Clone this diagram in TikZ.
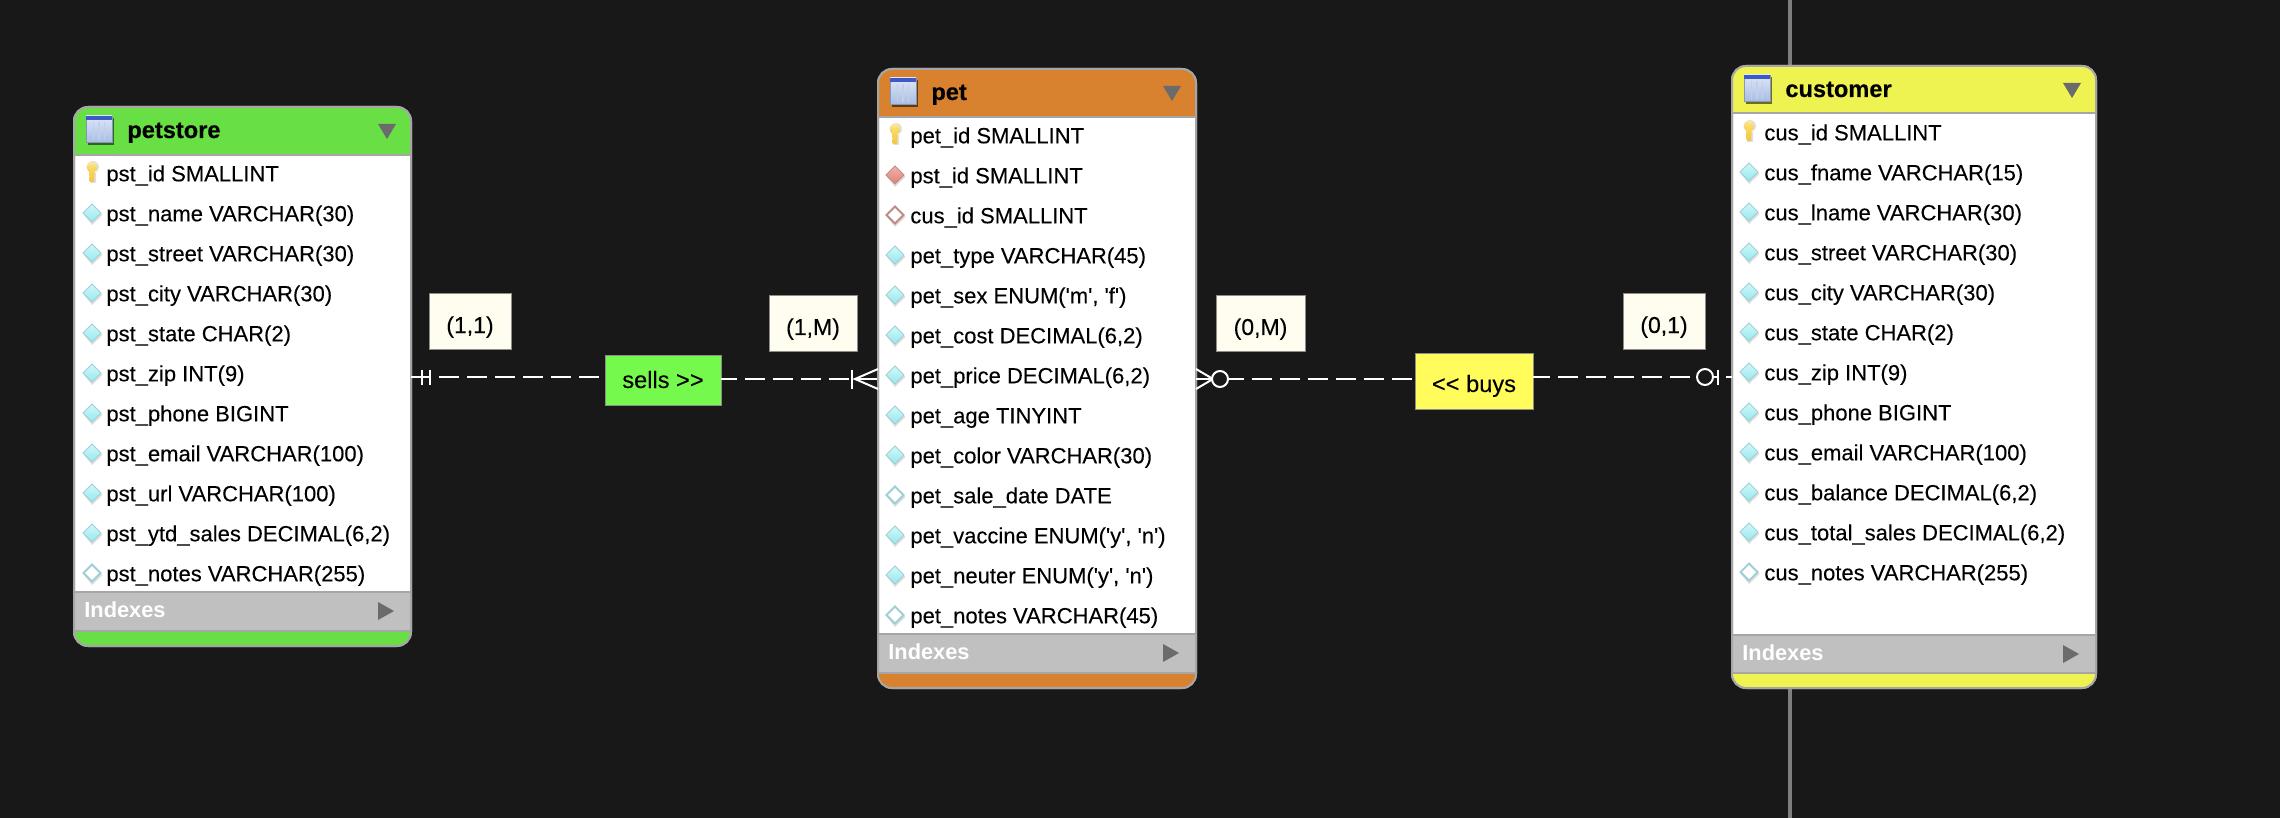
\documentclass[tikz,border=0pt]{standalone}
\usepackage{fontspec}
\newfontfamily\lib{Liberation Sans}[FakeBold=0.12]
\newfontfamily\libb{Liberation Sans Bold}[FakeBold=0.45]
\newfontfamily\libi{Liberation Sans Bold}
\definecolor{bgc}{HTML}{181818}
\definecolor{edgec}{HTML}{A6A6A6}
\definecolor{bandc}{HTML}{C0C0C0}
\definecolor{tric}{HTML}{6B6B6B}
\definecolor{vlinec}{HTML}{7F7F7F}
\definecolor{greenh}{HTML}{68E045}
\definecolor{orangeh}{HTML}{D8812E}
\definecolor{yellowh}{HTML}{EFF351}
\definecolor{notec}{HTML}{FEFDF0}
\definecolor{sellc}{HTML}{75F94D}
\definecolor{buyc}{HTML}{FFFC5C}
\definecolor{dtop}{HTML}{D2F8FA}
\definecolor{dbot}{HTML}{93E8EE}
\definecolor{dedge}{HTML}{9FCFD4}
\definecolor{rtop}{HTML}{F2B4AC}
\definecolor{rbot}{HTML}{DE7F76}
\definecolor{redge}{HTML}{BE8A84}
\definecolor{keyc}{HTML}{F9DC63}
\definecolor{keyd}{HTML}{F1C545}
\definecolor{itop}{HTML}{DDE6F7}
\definecolor{ibot}{HTML}{A9BEE3}
\definecolor{iband}{HTML}{3E58C6}
\definecolor{icol}{HTML}{C2CFEC}
\tikzset{
  tablebox/.style={draw=edgec,line width=1pt,fill=white,rounded corners=7pt,inner sep=0pt,outer sep=0pt},
  rowtext/.style={font=\lib\fontsize{11}{13}\selectfont,text=black,anchor=base west,inner sep=0pt},
  titletext/.style={font=\libb\fontsize{11.8}{14}\selectfont,text=black,anchor=base west,inner sep=0pt},
  idxtext/.style={font=\libi\fontsize{10.9}{13}\selectfont,text=white,anchor=base west,inner sep=0pt},
  cardbox/.style={draw=black!45,line width=.4pt,fill=notec,inner sep=0pt,outer sep=0pt,text=black,
    font=\lib\fontsize{11.5}{14}\selectfont,text height=12pt,text depth=0pt},
  relbox/.style={draw=black!45,line width=.4pt,inner sep=0pt,outer sep=0pt,text=black,
    font=\lib\fontsize{11.8}{14}\selectfont,text depth=0pt},
  rel/.style={draw=white,line width=1pt,dash pattern=on 10pt off 4pt},
  mark line/.style={draw=white,line width=1pt},
  ring/.style={draw=white,line width=1pt,fill=bgc},
  icon-d/.pic={
    \fill[black,opacity=.13] (0,-8)--(10.5,2)--(0,12)--(-8,2)--cycle;
    \path[draw=dedge,line width=.5pt,top color=dtop,bottom color=dbot]
      (0,-9)--(9,0)--(0,9)--(-9,0)--cycle;},
  icon-o/.pic={
    \fill[black,opacity=.13] (0,-8)--(10.5,2)--(0,12)--(-8,2)--cycle;
    \path[draw=dedge,line width=.9pt,fill=white]
      (0,-8.5)--(8.5,0)--(0,8.5)--(-8.5,0)--cycle;},
  icon-r/.pic={
    \fill[black,opacity=.13] (0,-8)--(10.5,2)--(0,12)--(-8,2)--cycle;
    \path[draw=redge,line width=.5pt,top color=rtop,bottom color=rbot]
      (0,-9)--(9,0)--(0,9)--(-9,0)--cycle;},
  icon-s/.pic={
    \fill[black,opacity=.13] (0,-8)--(10.5,2)--(0,12)--(-8,2)--cycle;
    \path[draw=redge,line width=.9pt,fill=white]
      (0,-8.5)--(8.5,0)--(0,8.5)--(-8.5,0)--cycle;},
  icon-k/.pic={
    \fill[black,opacity=.12] (1,-6) circle[radius=6] (-2,-5) rectangle (4,10);
    \path[top color=keyc!60!white,bottom color=keyd] (0,-6) circle[radius=5.5];
    \path[top color=keyc,bottom color=keyd] (-3,-6)--(3,-6)--(2.2,9)--(-2.2,9)--cycle;},
  icon-t/.pic={
    \fill[black,opacity=.55] (2,2) rectangle (28,29);
    \path[top color=itop,bottom color=ibot,draw=ibot!80!black,line width=.4pt] (0,0) rectangle (26,26);
    \fill[iband] (0,0) rectangle (26,4);
    \foreach \cl in {7.5,13,18.5} \draw[icol,line width=.8pt] (\cl,6) -- (\cl,24);},
}
\newcommand{\erTable}[9]{%
  \pgfmathsetmacro\tw{(#4-#2)*.5}%
  \pgfmathsetmacro\th{(#8-#3)*.5}%
  \pgfmathsetmacro\tcx{(#4+#2)*.5}%
  \pgfmathsetmacro\tcy{(#8+#3)*.5}%
  \node[tablebox,minimum width=\tw pt,minimum height=\th pt] (#1) at (\tcx,\tcy) {};
  \begin{scope}
    \clip[rounded corners=7pt] (#1.north west) rectangle (#1.south east);
    \fill[#9] (#2,#3) rectangle (#4,#5);
    \fill[bandc] (#2,#6) rectangle (#4,#7);
    \fill[#9] (#2,#7) rectangle (#4,#8);
    \draw[edgec,line width=1pt] (#2,#5) -- (#4,#5) (#2,#6) -- (#4,#6) (#2,#7) -- (#4,#7);
  \end{scope}
  \draw[edgec,line width=1pt,rounded corners=7pt] (#1.north west) rectangle (#1.south east);
  \pic at (#2+12,#3+9) {icon-t};
  \fill[tric] (#4-33,#3+17) -- (#4-15,#3+17) -- (#4-24,#3+32) -- cycle;
  \fill[tric] (#4-33,#6+10) -- (#4-17,#6+19) -- (#4-33,#6+28) -- cycle;
  \node[idxtext] (#1-idx) at (#2+10,#6+25) {Indexes};
}
\newcommand{\erRows}[5]{%
  \foreach \ty/\txt [count=\i] in {#5} {
    \pgfmathsetmacro\ry{#4+40*(\i-1)}
    \pic at (#2,\ry) {icon-\ty};
    \node[rowtext] (#1-r\i) at (#3,\ry+8.3) {\txt};
  }
}
\begin{document}
\begin{tikzpicture}[x=0.5pt,y=-0.5pt]
  \path[use as bounding box,fill=bgc] (0,0) rectangle (2280,818);
  \coordinate (vt) at (1790,0);
  \coordinate (vb) at (1790,818);
  \draw[vlinec,line width=2pt] (vt) -- (vb);

  \erTable{petstore}{74}{107}{411}{155}{592}{631}{646}{greenh}
  \node[titletext] (petstore-title) at (127,138) {petstore};
  \erRows{petstore}{92}{106}{173}{k/{pst\_id SMALLINT},d/{pst\_name VARCHAR(30)},d/{pst\_street VARCHAR(30)},d/{pst\_city VARCHAR(30)},d/{pst\_state CHAR(2)},d/{pst\_zip INT(9)},d/{pst\_phone BIGINT},d/{pst\_email VARCHAR(100)},d/{pst\_url VARCHAR(100)},d/{pst\_ytd\_sales DECIMAL(6,2)},o/{pst\_notes VARCHAR(255)}}

  \erTable{pet}{878}{69}{1196}{117}{634}{673}{688}{orangeh}
  \node[titletext] (pet-title) at (931,100) {pet};
  \erRows{pet}{895}{910}{135}{k/{pet\_id SMALLINT},r/{pst\_id SMALLINT},s/{cus\_id SMALLINT},d/{pet\_type VARCHAR(45)},d/{pet\_sex ENUM('m', 'f')},d/{pet\_cost DECIMAL(6,2)},d/{pet\_price DECIMAL(6,2)},d/{pet\_age TINYINT},d/{pet\_color VARCHAR(30)},o/{pet\_sale\_date DATE},d/{pet\_vaccine ENUM('y', 'n')},d/{pet\_neuter ENUM('y', 'n')},o/{pet\_notes VARCHAR(45)}}

  \erTable{customer}{1732}{66}{2096}{113}{635}{673}{688}{yellowh}
  \node[titletext] (customer-title) at (1785,97) {customer};
  \erRows{customer}{1749}{1764}{132}{k/{cus\_id SMALLINT},d/{cus\_fname VARCHAR(15)},d/{cus\_lname VARCHAR(30)},d/{cus\_street VARCHAR(30)},d/{cus\_city VARCHAR(30)},d/{cus\_state CHAR(2)},d/{cus\_zip INT(9)},d/{cus\_phone BIGINT},d/{cus\_email VARCHAR(100)},d/{cus\_balance DECIMAL(6,2)},d/{cus\_total\_sales DECIMAL(6,2)},o/{cus\_notes VARCHAR(255)}}

  % cardinality notes
  \node[cardbox,minimum width=41pt,minimum height=28pt] (c11) at (470,321) {(1,1)};
  \node[cardbox,minimum width=44pt,minimum height=28pt] (c1m) at (813,323) {(1,M)};
  \node[cardbox,minimum width=44.5pt,minimum height=28pt] (c0m) at (1260.5,323) {(0,M)};
  \node[cardbox,minimum width=41pt,minimum height=28pt] (c01) at (1664,321) {(0,1)};

  % relationship boxes
  \node[relbox,fill=sellc,minimum width=58pt,minimum height=25pt,text height=8pt] (sells) at (663,380) {sells >>};
  \node[relbox,fill=buyc,minimum width=59pt,minimum height=28pt,text height=11pt] (buys) at (1474,381) {<{}< buys};

  \coordinate (ya) at (0,377);
  \coordinate (yb) at (0,379);

  % petstore -- sells
  \draw[rel] (petstore.east |- ya) -- (sells.west |- ya);
  \coordinate (t1) at (422,377); \coordinate (t2) at (430,377);
  \draw[mark line] ([yshift=3.75pt]t1) -- ([yshift=-3.75pt]t1);
  \draw[mark line] ([yshift=3.75pt]t2) -- ([yshift=-3.75pt]t2);

  % sells -- pet
  \draw[rel,dash phase=2pt] (sells.east |- yb) -- (pet.west |- yb);
  \coordinate (t3) at (852,379); \coordinate (apex1) at (855,379);
  \draw[mark line] ([yshift=4.75pt]t3) -- ([yshift=-4.75pt]t3);
  \draw[mark line] ([yshift=5pt]pet.west |- yb) -- (apex1) -- ([yshift=-5pt]pet.west |- yb);

  % pet -- buys
  \draw[rel] (pet.east |- yb) -- (buys.west |- yb);
  \coordinate (apex2) at (1213,379); \coordinate (o1) at (1220,379);
  \draw[mark line] ([yshift=5pt]pet.east |- yb) -- (apex2) -- ([yshift=-5pt]pet.east |- yb);
  \draw[ring] (o1) circle[radius=8];

  % buys -- customer
  \draw[rel,dash phase=1.5pt] (buys.east |- ya) -- (customer.west |- ya);
  \coordinate (o2) at (1705,377); \coordinate (t4) at (1718,377);
  \draw[ring] (o2) circle[radius=8];
  \draw[mark line] ([yshift=3.75pt]t4) -- ([yshift=-3.75pt]t4);
\end{tikzpicture}
\end{document}
